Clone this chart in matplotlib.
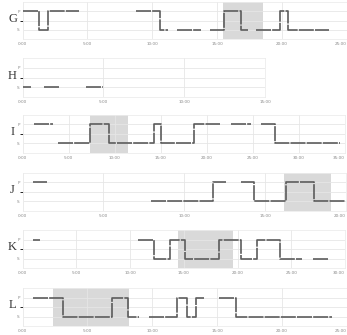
import numpy as np
import matplotlib
matplotlib.use("Agg")
import matplotlib.pyplot as plt

# P = 1, S = 0 ; each run = (times, states), drawn as a step line
g_runs = [([0, 1.29, 1.93, 4.39], [1, 0, 1]),
          ([8.78, 10.61, 11.24], [1, 0]),
          ([11.93, 13.73], [0]),
          ([14.47, 15.56, 16.83, 17.39], [0, 1, 0]),
          ([17.97, 19.87, 20.46, 23.63], [0, 1, 0])]
h_runs = [([0, 0.53], [0]),
          ([1.30, 2.28], [0]),
          ([3.93, 4.96], [0])]
i_runs = [([1.20, 3.26], [1]),
          ([3.80, 7.28, 9.35, 14.31, 15.04, 18.66, 21.41], [0, 1, 0, 1, 0, 1]),
          ([22.64, 24.75], [1]),
          ([25.91, 27.36, 34.46], [1, 0])]
j_runs = [([0.68, 1.54], [1]),
          ([7.94, 11.75, 12.57], [0, 1]),
          ([13.48, 14.32, 16.26, 18.0, 19.92], [1, 0, 1, 0])]
k_runs = [([1.02, 1.65], [1]),
          ([10.75, 12.2, 13.7, 15.09, 18.26, 20.34, 21.83, 23.94, 26.02], [1, 0, 1, 0, 1, 0, 1, 0]),
          ([27.02, 28.42], [0])]
l_runs = [([0.84, 3.12, 6.88, 8.15, 9.01], [1, 0, 1, 0]),
          ([9.77, 11.88, 12.64, 13.35, 14.04], [0, 1, 0, 1]),
          ([15.13, 16.45, 23.81], [1, 0])]

letters = ["G", "H", "I", "J", "K", "L"]
all_runs = [g_runs, h_runs, i_runs, j_runs, k_runs, l_runs]
x_max = [25, 15, 35, 20, 30, 25]
shade = [(15.43, 18.53), None, (7.28, 11.45), (16.17, 19.05), (14.47, 19.6), (2.36, 8.2)]

W, H = 347, 335
# axes boxes in pixels: left, right, top, bottom
boxes = [(22.5, 347, 2, 39), (22.5, 265, 58, 97), (22.5, 345, 115, 153),
         (22.5, 346, 173, 211), (22.5, 345, 230, 268), (22.5, 347, 288, 326)]

fig = plt.figure(figsize=(W / 100, H / 100), dpi=100)

for k in range(6):
    l, r, t, b = boxes[k]
    ax = fig.add_axes([l / W, 1 - b / H, (r - l) / W, (b - t) / H])
    ax.set_xlim(0, x_max[k])
    ax.set_ylim(-0.5, 1.5)
    if shade[k] is not None:
        ax.axvspan(shade[k][0], shade[k][1], color="#d9d9d9", lw=0, zorder=0)
    for times, states in all_runs[k]:
        ax.step(times, states + [states[-1]], where="post", color="#5c5c5c",
                lw=1.2, dashes=(9, 0.7), zorder=3)
    ticks = np.arange(0, x_max[k] + 1, 5)
    ax.set_xticks(ticks)
    ax.set_xticklabels(["%d:00" % v for v in ticks])
    if r > 300:
        ax.get_xticklabels()[-1].set_ha("right")
    ax.set_yticks([0, 1])
    ax.set_yticklabels(["S", "P"])
    ax.set_yticks([0.5], minor=True)
    ax.grid(True, which="both", color="#e6e6e6", lw=0.6, zorder=1)
    ax.set_axisbelow(True)
    ax.tick_params(length=0, labelsize=3, labelcolor="#888888", pad=2)
    for s in ax.spines.values():
        s.set_color("#ececec")
        s.set_linewidth(0.6)
    fig.text(12.5 / W, 1 - (t + b) / 2 / H + 0.005, letters[k], fontsize=9,
             family="Liberation Serif", ha="center", va="center", color="#333333")

fig.savefig("out.png", dpi=100)
